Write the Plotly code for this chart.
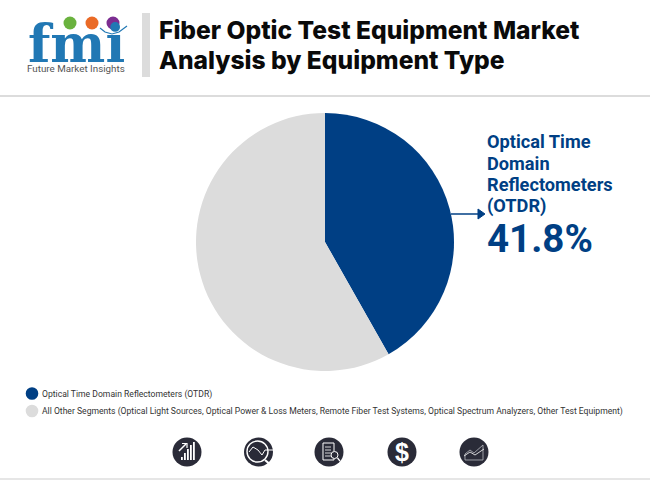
import plotly.graph_objects as go

W, H = 650, 480
segments = ["Optical Time Domain Reflectometers (OTDR)", "All Other Segments"]
shares = [41.8, 58.2]
colors = ["#003f84", "#dcdcdc"]
title_lines = ["Fiber Optic Test Equipment Market", "Analysis by Equipment Type"]
legend_labels = [
    "Optical Time Domain Reflectometers (OTDR)",
    "All Other Segments (Optical Light Sources, Optical Power & Loss Meters, Remote Fiber Test Systems, Optical Spectrum Analyzers, Other Test Equipment)",
]
callout_lines = ["Optical Time", "Domain", "Reflectometers", "(OTDR)"]
callout_value = "41.8%"
DARK = "#2a2b38"
BLUE = "#2178b4"

def X(p): return p / W
def Y(p): return 1 - p / H

shapes, annots = [], []

def rect(x0, y0, x1, y1, c):
    shapes.append(dict(type="rect", xref="paper", yref="paper", x0=X(x0), x1=X(x1), y0=Y(y0), y1=Y(y1),
                       fillcolor=c, line_width=0, layer="above"))

def circ(cx, cy, r, c):
    shapes.append(dict(type="circle", xref="paper", yref="paper", x0=X(cx - r), x1=X(cx + r), y0=Y(cy - r), y1=Y(cy + r),
                       fillcolor=c, line_width=0, layer="above"))

def poly(pts, line="white", w=1.2, fill=None):
    d = "M" + " L".join(f"{X(a):.5f},{Y(b):.5f}" for a, b in pts)
    if fill:
        d += " Z"
    shapes.append(dict(type="path", xref="paper", yref="paper", path=d, fillcolor=fill,
                       line=dict(color=line, width=w), layer="above"))

def text(x, y, s, size, color, bold=False, anchor="left", family="Roboto", weight=None):
    f = dict(family=family, size=size, color=color)
    if weight:
        f["weight"] = weight
    annots.append(dict(xref="paper", yref="paper", x=X(x), y=Y(y), text=f"<b>{s}</b>" if bold else s,
                       showarrow=False, xanchor=anchor, yanchor="middle",
                       font=f, borderpad=0, borderwidth=0))

# rules and title bar
rect(0, 95, W, 97, "#dcdcdc")
rect(0, 478, W, 480, "#e6e6e6")
rect(142, 13, 150, 77, "#dcdcdc")
text(158.5, 30, title_lines[0], 24.6, "#0a0a0a", family="Inter", weight=800)
text(158.5, 60, title_lines[1], 24.6, "#0a0a0a", family="Inter", weight=800)

# logo
text(76.5, 43.5, "fmi", 52, BLUE, True, "center", "DejaVu Serif")
for yy in (30, 35.5, 41, 46.5, 52, 57.5):
    rect(20, yy, 135, yy + 1.1, "white")
circ(70, 23, 6.5, "#6ab23e")
circ(92, 23, 6.5, "#ea6a26")
circ(113, 23, 6.5, "#7c2d91")
poly([(100, 28), (105, 32), (112, 34), (119, 32), (127, 26)], BLUE, 1.2)
text(76, 68.5, "Future Market Insights", 9.8, "#555555", False, "center")

# callout
for i, line in enumerate(callout_lines):
    text(487, 141.5 + i * 21.5, line, 18.2, "#003f84", True)
text(487, 238.5, callout_value, 38.5, "#003f84", True)
poly([(451, 214), (480, 214)], "#003f84", 1.5)
poly([(478, 209), (485, 214), (478, 219)], "#003f84", 1, "#003f84")

# legend
circ(32, 393.5, 6.3, colors[0])
circ(32, 411, 6.3, colors[1])
text(42, 394, legend_labels[0], 8.6, "#333333")
text(42, 411, legend_labels[1], 8.6, "#333333")

# bottom icons
for cx in (187, 258.5, 329, 402, 474):
    circ(cx, 452, 14.5, DARK)
# icon 1: rising bars and arrow
for dx, top in ((-6, 457), (-3, 453), (0, 449), (3, 445), (6, 442)):
    rect(187 + dx, top, 187 + dx + 1.8, 460, "white")
poly([(179, 451), (186, 444)], "white", 1.5)
poly([(182, 443.5), (187, 443.5), (187, 448)], "white", 1.2)
# icon 2: loupe over a curve
shapes.append(dict(type="circle", xref="paper", yref="paper", x0=X(247), x1=X(268), y0=Y(441), y1=Y(462),
                   line=dict(color="white", width=1.4), layer="above"))
poly([(249, 452), (253, 447), (258, 450), (262, 455), (265, 450), (273, 450)], "white", 1)
poly([(265, 460), (272, 466)], "white", 2.2)
# icon 3: report with loupe
poly([(323, 443), (334, 443), (334, 460), (323, 460), (323, 443)], "white", 1)
for yy in (447, 450, 453, 456):
    poly([(325, yy), (331, yy)], "white", 0.8)
circ(334.5, 455, 3.8, DARK)
shapes.append(dict(type="circle", xref="paper", yref="paper", x0=X(331), x1=X(338), y0=Y(451.5), y1=Y(458.5),
                   line=dict(color="white", width=1), layer="above"))
poly([(337.5, 458), (340, 461)], "white", 1.2)
# icon 4: dollar
text(402, 452, "$", 25, "white", True, "center", "Liberation Sans")
# icon 5: area line
poly([(465, 460), (465, 454), (470, 450), (474, 453), (483, 445), (483, 460), (465, 460)], "#b9bac0", 0.8)
poly([(464, 456), (470, 452), (475, 455), (484, 449)], "white", 0.8)

fig = go.Figure(go.Pie(
    labels=segments, values=shares, sort=False, direction="clockwise", rotation=0,
    marker=dict(colors=colors, line=dict(width=0)), textinfo="none", hoverinfo="label+percent",
    domain=dict(x=[X(196), X(454)], y=[Y(371), Y(113)]),
))
fig.update_layout(width=W, height=H, margin=dict(l=0, r=0, t=0, b=0), showlegend=False,
                  paper_bgcolor="white", shapes=shapes, annotations=annots)
fig.write_html("out.html", config=dict(displayModeBar=False),
               post_script="document.body.style.margin='0';document.documentElement.style.overflow='hidden';")
